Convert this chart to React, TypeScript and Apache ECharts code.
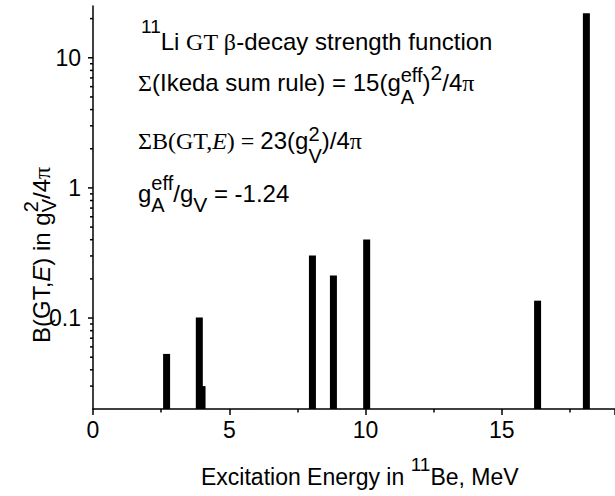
import React, { useEffect, useRef } from 'react';
import * as echarts from 'echarts';

// ---- data ----
const energies = [2.7, 3.9, 4.0, 8.05, 8.82, 10.04, 16.31, 18.1];
const strengths = [0.053, 0.101, 0.03, 0.303, 0.212, 0.401, 0.136, 22.0];
const xTickValues = [0, 5, 10, 15];
const xTickLabels = ['0', '5', '10', '15'];
const yMajorTicks = [0.1, 1, 10];
const yTickLabels = ['0.1', '1', '10'];
const yMinorTicks = [
  0.03, 0.04, 0.05, 0.06, 0.07, 0.08, 0.09,
  0.2, 0.3, 0.4, 0.5, 0.6, 0.7, 0.8, 0.9,
  2, 3, 4, 5, 6, 7, 8, 9, 20,
];
const xMin = 0;
const xMax = 19.15;
const yMin = 0.02;
const yMax = 25;

const FS = "'Liberation Sans', Arial, sans-serif";
const FT = "'Liberation Serif', 'Times New Roman', serif";

type Run = {
  t?: string;
  f?: string;
  s?: number;
  i?: boolean;
  dy?: number;
  sup?: string;
  sub?: string;
  ss?: number;
  supDy?: number;
  subDy?: number;
};

function makeText(x: number, base: number, t: string, f: string, s: number, i?: boolean) {
  return {
    type: 'text',
    x,
    y: base - 0.35 * s,
    silent: true,
    style: {
      text: t,
      fontFamily: f,
      fontSize: s,
      fontStyle: i ? 'italic' : 'normal',
      fill: '#000',
      align: 'left',
      verticalAlign: 'middle',
    },
  };
}

function layoutRuns(ctx: CanvasRenderingContext2D, x0: number, base: number, runs: Run[], defSize: number) {
  const out: any[] = [];
  let x = x0;
  const meas = (t: string, f: string, s: number, i?: boolean) => {
    ctx.font = `${i ? 'italic ' : ''}${s}px ${f}`;
    return ctx.measureText(t).width;
  };
  for (const r of runs) {
    if (r.t !== undefined) {
      const f = r.f || FS;
      const s = r.s || defSize;
      out.push(makeText(x, base + (r.dy || 0), r.t, f, s, r.i));
      x += meas(r.t, f, s, r.i);
    } else {
      const f = r.f || FS;
      const s = r.ss || 20;
      let w = 0;
      if (r.sup) {
        out.push(makeText(x, base + (r.supDy || 0), r.sup, f, s));
        w = Math.max(w, meas(r.sup, f, s));
      }
      if (r.sub) {
        out.push(makeText(x, base + (r.subDy || 0), r.sub, f, s));
        w = Math.max(w, meas(r.sub, f, s));
      }
      x += w;
    }
  }
  return out;
}

export default function App() {
  const ref = useRef<HTMLDivElement>(null);
  useEffect(() => {
    if (!ref.current) return;
    document.body.style.margin = '0';
    const chart = echarts.init(ref.current, null, { renderer: 'svg' });
    const canvas = document.createElement('canvas');
    const ctx = canvas.getContext('2d') as CanvasRenderingContext2D;

    const graphics: any[] = [];
    // line 1
    graphics.push(
      ...layoutRuns(ctx, 141, 50, [
        { t: '11', s: 19, dy: -17 },
        { t: 'Li ', f: FS },
        { t: 'GT β', f: FT },
        { t: '-decay strength function', f: FS },
      ], 24)
    );
    // line 2
    graphics.push(
      ...layoutRuns(ctx, 138, 91, [
        { t: 'Σ', f: FT },
        { t: '(Ikeda sum rule) = 15(g', f: FS },
        { sup: 'eff', sub: 'A', ss: 20, supDy: -9, subDy: 13 },
        { t: ')', f: FS },
        { t: '2', s: 21, dy: -11 },
        { t: '/4', f: FS },
        { t: 'π', f: FT },
      ], 24)
    );
    // line 3
    graphics.push(
      ...layoutRuns(ctx, 138, 149, [
        { t: 'ΣB(GT,', f: FT },
        { t: 'E', f: FT, i: true },
        { t: ') = ', f: FT },
        { t: '23(g', f: FS },
        { sup: '2', sub: 'V', ss: 20, supDy: -8, subDy: 14 },
        { t: ')/4', f: FS },
        { t: 'π', f: FT },
      ], 24)
    );
    // line 4
    graphics.push(
      ...layoutRuns(ctx, 138, 202, [
        { t: 'g', f: FS },
        { sup: 'eff', sub: 'A', ss: 20, supDy: -12, subDy: 10 },
        { t: '/g', f: FS },
        { t: 'V', s: 21, dy: 10 },
        { t: ' = -1.24', f: FS },
      ], 24)
    );
    // x axis title
    graphics.push(
      ...layoutRuns(ctx, 201, 485, [
        { t: 'Excitation Energy in ' },
        { t: '11', s: 19, dy: -14 },
        { t: 'Be, MeV' },
      ], 23)
    );
    // y axis title (rotated)
    graphics.push({
      type: 'group',
      x: 0,
      y: 343,
      rotation: Math.PI / 2,
      children: layoutRuns(ctx, 0, 50, [
        { t: 'B(GT,' },
        { t: 'E', i: true },
        { t: ') in g' },
        { sup: '2', sub: 'V', ss: 20, supDy: -12, subDy: 6 },
        { t: '/4' },
        { t: 'π', f: FT },
      ], 24),
    });

    const barData = energies.map((e, k) => [e, strengths[k]]);

    chart.setOption({
      animation: false,
      backgroundColor: '#fff',
      grid: { left: 93, right: 0, top: 6, bottom: 87, outerBoundsMode: 'none' },
      xAxis: {
        type: 'value',
        min: xMin,
        max: xMax,
        interval: 5,
        axisLine: { onZero: false, lineStyle: { color: '#000', width: 1.5 } },
        axisTick: { length: 6, lineStyle: { color: '#000', width: 1.5 } },
        minorTick: { show: true, splitNumber: 2, length: 3.5, lineStyle: { color: '#000', width: 1.5 } },
        axisLabel: {
          color: '#000',
          fontSize: 23,
          fontFamily: FS,
          margin: 9,
          formatter: (v: number) => {
            const k = xTickValues.findIndex((t) => Math.abs(t - v) < 1e-9);
            return k >= 0 ? xTickLabels[k] : '';
          },
        },
        splitLine: { show: false },
        minorSplitLine: { show: false },
      },
      yAxis: {
        type: 'log',
        logBase: 10,
        min: yMin,
        max: yMax,
        axisLine: { show: true, onZero: false, lineStyle: { color: '#000', width: 1.5 } },
        axisTick: { show: false },
        minorTick: { show: false },
        axisLabel: {
          color: '#000',
          fontSize: 23,
          fontFamily: FS,
          margin: 12,
          formatter: (v: number) => {
            const k = yMajorTicks.findIndex((t) => Math.abs(t - v) / t < 1e-6);
            return k >= 0 ? yTickLabels[k] : '';
          },
        },
        splitLine: { show: false },
      },
      series: [
        {
          type: 'custom',
          data: barData,
          encode: { x: 0, y: 1 },
          renderItem: (params: any, api: any) => {
            const x = api.value(0);
            const v = api.value(1);
            const top = api.coord([x, v]);
            const base = api.coord([x, yMin]);
            const w = 7;
            return {
              type: 'rect',
              shape: { x: top[0] - w / 2, y: top[1], width: w, height: base[1] - top[1] },
              style: { fill: '#000' },
            };
          },
        },
        {
          type: 'custom',
          data: yMajorTicks.map((v) => [xMin, v]),
          encode: { x: 0, y: 1 },
          silent: true,
          renderItem: (params: any, api: any) => {
            const p = api.coord([api.value(0), api.value(1)]);
            return {
              type: 'line',
              shape: { x1: p[0] - 5, y1: p[1], x2: p[0], y2: p[1] },
              style: { stroke: '#000', lineWidth: 1.5 },
            };
          },
        },
        {
          type: 'custom',
          data: yMinorTicks.map((v) => [xMin, v]),
          encode: { x: 0, y: 1 },
          silent: true,
          renderItem: (params: any, api: any) => {
            const p = api.coord([api.value(0), api.value(1)]);
            return {
              type: 'line',
              shape: { x1: p[0] - 3, y1: p[1], x2: p[0], y2: p[1] },
              style: { stroke: '#000', lineWidth: 1.5 },
            };
          },
        },
      ],
      graphic: graphics,
    });
    return () => chart.dispose();
  }, []);
  return <div ref={ref} style={{ width: 615, height: 496 }} />;
}
